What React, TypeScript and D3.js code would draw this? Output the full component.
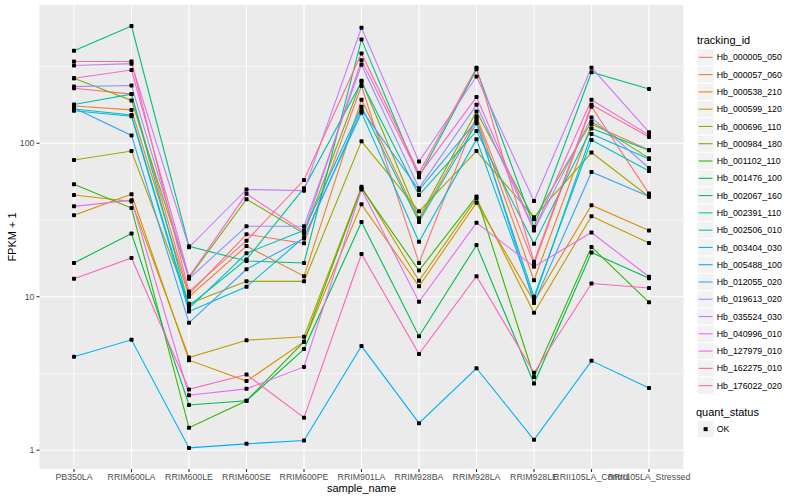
import * as d3 from "d3";
import React from "react";

const samples = [
  "PB350LA", "RRIM600LA", "RRIM600LE", "RRIM600SE", "RRIM600PE", "RRIM901LA",
  "RRIM928BA", "RRIM928LA", "RRIM928LE", "RRII105LA_Control", "RRII105LA_Stressed",
];

const trackingIds = [
  "Hb_000005_050", "Hb_000057_060", "Hb_000538_210", "Hb_000599_120", "Hb_000696_110",
  "Hb_000984_180", "Hb_001102_110", "Hb_001476_100", "Hb_002067_160", "Hb_002391_110",
  "Hb_002506_010", "Hb_003404_030", "Hb_005488_100", "Hb_012055_020", "Hb_019613_020",
  "Hb_035524_030", "Hb_040996_010", "Hb_127979_010", "Hb_162275_010", "Hb_176022_020",
];

// ggplot hue palette, 20 levels
const palette = [
  "#F8766D", "#EA8331", "#D89000", "#C09B00", "#A3A500", "#7CAE00", "#39B600", "#00BB4E",
  "#00BF7D", "#00C1A3", "#00BFC4", "#00BAE0", "#00B0F6", "#35A2FF", "#9590FF", "#C77CFF",
  "#E76BF3", "#FA62DB", "#FF62BC", "#FF6C91",
];

// FPKM + 1, one array per tracking_id, in sample order
const hb000005_050 = [228, 209, 10.4, 25.5, 22.3, 236, 16.6, 150, 16.3, 173, 47];
const hb000057_060 = [175, 165, 10.0, 21.4, 13.6, 192, 31.5, 145, 12.8, 133, 90.5];
const hb000538_210 = [34, 46.5, 3.86, 2.82, 5.09, 40, 11.7, 41, 9.3, 39.5, 27];
const hb000599_120 = [46, 41.8, 4.02, 5.21, 5.48, 52, 12.7, 43.6, 7.85, 33.5, 22.4];
const hb000696_110 = [77.8, 89, 9.0, 12.6, 12.6, 103, 36, 89, 33, 87, 44.8];
const hb000984_180 = [265, 190, 13.3, 43.2, 25.8, 255, 32.5, 161, 32, 138, 80];
const hb001102_110 = [54, 37.8, 1.40, 2.10, 5.09, 51, 14.8, 45, 3.0, 21.1, 9.2];
const hb001476_100 = [16.6, 25.8, 1.97, 2.10, 4.56, 30.7, 5.53, 21.7, 2.72, 19.4, 13.2];
const hb002067_160 = [401, 580, 21.3, 17.1, 16.6, 475, 60, 303, 28.5, 290, 226];
const hb002391_110 = [179, 209, 8.7, 17.5, 51, 251, 46, 120, 22.1, 125, 90];
const hb002506_010 = [167, 153, 8.4, 19.2, 27.1, 173, 30.7, 135, 10.0, 105, 66];
const hb003404_030 = [163, 150, 8.0, 11.6, 24.4, 158, 22.8, 106, 9.6, 115, 79];
const hb005488_100 = [4.06, 5.24, 1.035, 1.10, 1.157, 4.77, 1.50, 3.42, 1.17, 3.82, 2.54];
const hb012055_020 = [170, 112.5, 6.76, 15.1, 24.0, 165, 49.5, 140, 9.1, 65, 45];
const hb019613_020 = [234, 238, 13.1, 28.8, 28.8, 325, 51, 178, 27.0, 147, 69];
const hb035524_030 = [321, 330, 21.0, 50, 49.1, 566, 76, 272, 42, 311, 118];
const hb040996_010 = [38.8, 42.6, 2.28, 2.51, 3.49, 50, 9.27, 30.3, 15.7, 26.2, 13.5];
const hb127979_010 = [265, 300, 13.5, 46.8, 26.5, 347, 62, 200, 27.2, 192, 113];
const hb162275_010 = [13.1, 17.9, 2.49, 3.11, 1.63, 19, 4.23, 13.6, 3.2, 12.2, 11.4];
const hb176022_020 = [341, 341, 10.8, 23.2, 57.6, 385, 64, 311, 16.9, 178, 110];

const seriesValues = [
  hb000005_050, hb000057_060, hb000538_210, hb000599_120, hb000696_110,
  hb000984_180, hb001102_110, hb001476_100, hb002067_160, hb002391_110,
  hb002506_010, hb003404_030, hb005488_100, hb012055_020, hb019613_020,
  hb035524_030, hb040996_010, hb127979_010, hb162275_010, hb176022_020,
];

const yBreaks = [1, 10, 100];
const quantLevels = ["OK"];

const width = 800;
const height = 500;
const panel = { left: 39.5, right: 683.5, top: 5, bottom: 469 };
const font = "'Liberation Sans', Arial, Helvetica, sans-serif";

const App: React.FC = () => {
  const x = d3.scalePoint<string>().domain(samples).range([panel.left, panel.right]).padding(0.6);

  const logs = seriesValues.flat().map(Math.log10);
  const lo = d3.min(logs)!;
  const hi = d3.max(logs)!;
  const pad = (hi - lo) * 0.05;
  const y = d3.scaleLog().domain([10 ** (lo - pad), 10 ** (hi + pad)]).range([panel.bottom, panel.top]);

  const minorBreaks = yBreaks.map(b => b * Math.sqrt(10)).filter(b => y(b) > panel.top);

  const line = d3.line<number>()
    .x((_, i) => x(samples[i])!)
    .y(d => y(d));

  const keyH = 17.28;
  const legendX = 697;
  const keysTop = 48.7;

  return (
    <svg width={width} height={height} style={{ position: "absolute", left: 0, top: 0, background: "white" }} fontFamily={font}>
      <rect x={panel.left} y={panel.top} width={panel.right - panel.left} height={panel.bottom - panel.top} fill="#EBEBEB" />
      {minorBreaks.map(b => (
        <line key={"mn" + b} x1={panel.left} x2={panel.right} y1={y(b)} y2={y(b)} stroke="white" strokeWidth={0.55} />
      ))}
      {yBreaks.map(b => (
        <line key={"mj" + b} x1={panel.left} x2={panel.right} y1={y(b)} y2={y(b)} stroke="white" strokeWidth={1.1} />
      ))}
      {samples.map(s => (
        <line key={"vx" + s} x1={x(s)} x2={x(s)} y1={panel.top} y2={panel.bottom} stroke="white" strokeWidth={1.1} />
      ))}

      {seriesValues.map((vals, i) => (
        <path key={trackingIds[i]} d={line(vals)!} fill="none" stroke={palette[i]} strokeWidth={1.1} />
      ))}
      {seriesValues.map((vals, i) => (
        <g key={"pt" + trackingIds[i]}>
          {vals.map((v, j) => (
            <rect key={j} x={x(samples[j])! - 2} y={y(v) - 2} width={4} height={4} rx={0.8} fill="black" />
          ))}
        </g>
      ))}

      {/* y axis */}
      {yBreaks.map(b => (
        <g key={"yt" + b}>
          <line x1={panel.left - 3} x2={panel.left} y1={y(b)} y2={y(b)} stroke="#333333" strokeWidth={1.1} />
          <text x={panel.left - 5} y={y(b)} dy="0.33em" textAnchor="end" fontSize={8.8} fill="#4D4D4D">{b}</text>
        </g>
      ))}
      <text transform={`translate(16, ${(panel.top + panel.bottom) / 2}) rotate(-90)`} textAnchor="middle" fontSize={11} fill="black">FPKM + 1</text>

      {/* x axis */}
      {samples.map(s => (
        <g key={"xt" + s}>
          <line x1={x(s)} x2={x(s)} y1={panel.bottom} y2={panel.bottom + 3} stroke="#333333" strokeWidth={1.1} />
          <text x={x(s)} y={panel.bottom + 11} textAnchor="middle" fontSize={8.8} fill="#4D4D4D">{s}</text>
        </g>
      ))}
      <text x={(panel.left + panel.right) / 2} y={492} textAnchor="middle" fontSize={11} fill="black">sample_name</text>

      {/* colour legend */}
      <text x={legendX} y={44} fontSize={11} fill="black">tracking_id</text>
      {trackingIds.map((id, i) => {
        const ky = keysTop + i * keyH;
        return (
          <g key={"lg" + id}>
            <rect x={legendX} y={ky} width={keyH} height={keyH} fill="#F2F2F2" stroke="white" strokeWidth={1} />
            <line x1={legendX + 1.7} x2={legendX + keyH - 1.7} y1={ky + keyH / 2} y2={ky + keyH / 2} stroke={palette[i]} strokeWidth={1.1} />
            <text x={legendX + keyH + 2.5} y={ky + keyH / 2} dy="0.35em" fontSize={8.8} fill="black">{id}</text>
          </g>
        );
      })}

      {/* shape legend */}
      <text x={legendX - 1} y={416} fontSize={11} fill="black">quant_status</text>
      {quantLevels.map((q, i) => {
        const ky = 420.5 + i * keyH;
        return (
          <g key={"qs" + q}>
            <rect x={legendX} y={ky} width={keyH} height={keyH} fill="#F2F2F2" stroke="white" strokeWidth={1} />
            <rect x={legendX + keyH / 2 - 2} y={ky + keyH / 2 - 2} width={4} height={4} fill="black" />
            <text x={legendX + keyH + 2.5} y={ky + keyH / 2} dy="0.35em" fontSize={8.8} fill="black">{q}</text>
          </g>
        );
      })}
    </svg>
  );
};

export default App;
